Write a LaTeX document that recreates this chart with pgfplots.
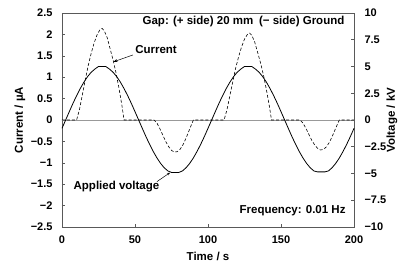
\documentclass[border=0pt]{standalone}
\usepackage{fontspec}
\setmainfont{Liberation Sans}
\usepackage{pgfplots}
\pgfplotsset{compat=1.18}
\usetikzlibrary{arrows.meta}
\newcommand\txt{\bfseries\fontsize{11.5bp}{13bp}\selectfont}
\newcommand\tck{\bfseries\fontsize{11bp}{13bp}\selectfont}
\begin{document}
\begin{tikzpicture}[font=\txt]
\pgfplotsset{every axis/.append style={scale only axis, width=292bp, height=214bp,
  xmin=0, xmax=200, at={(0,0)}, anchor=south west, clip=false,
  tick align=inside, major tick length=3bp,
  /pgf/number format/assume math mode=true,
  axis line style={black!65, line width=0.9pt},
  tick style={black!65, line width=0.6pt},
  tick label style={font=\tck},
  label style={font=\txt}}}
\begin{axis}[ymin=-2.5, ymax=2.5,
  xtick={0,50,100,150,200}, xtick pos=bottom, ytick pos=left,
  ytick={-2.5,-2,-1.5,-1,-0.5,0,0.5,1,1.5,2,2.5},
  yticklabels={−2.5,−2,−1.5,−1,−0.5,0,0.5,1,1.5,2,2.5},
  yticklabel style={xshift=-6bp},
  xticklabel style={yshift=-5bp},
  xlabel={Time / s}, ylabel={Current / µA},
  x label style={at={([yshift=-29bp]axis description cs:0.5,0)}, anchor=center},
  y label style={at={([xshift=-42bp]axis description cs:0,0.5)}, anchor=center}]
\addplot[black!40, line width=0.8pt] coordinates {(0,0) (200,0)};
\addplot[black, line width=0.6pt, dash pattern=on 3bp off 2bp] coordinates {
(0,0) (10,0) (12,0.25) (14,0.6) (16,0.95) (18,1.28) (20,1.56) (22,1.8) (24,1.99) (26,2.11) (27.5,2.14) (29,2.08) (31,1.92) (33,1.66) (35,1.4) (37,1.1) (39,0.75) (41,0.35) (42.5,0)
(63,0) (65,-0.07) (67,-0.2) (69,-0.35) (71,-0.5) (73,-0.62) (75,-0.71) (77,-0.75) (79,-0.74) (81,-0.68) (83,-0.57) (85,-0.42) (87,-0.25) (89,-0.08) (90,0)
(111,0) (113,0.24) (115,0.57) (117,0.9) (119,1.22) (121,1.48) (123,1.71) (125,1.89) (127,2.0) (128.5,2.03) (130,1.98) (132,1.82) (134,1.58) (136,1.33) (138,1.05) (140,0.71) (142,0.33) (143.5,0)
(163,0) (165,-0.07) (167,-0.19) (169,-0.33) (171,-0.47) (173,-0.58) (175,-0.66) (177,-0.70) (179,-0.69) (181,-0.63) (183,-0.53) (185,-0.39) (187,-0.23) (189,-0.07) (190,0) (200,0)};
\node at (axis cs:64.4,1.64) {Current};
\draw[-{Stealth[length=4bp,width=3bp]}, line width=0.5pt] (axis cs:48.6,1.52) -- (axis cs:35.3,1.36);
\node at (axis cs:37.3,-1.56) {Applied voltage};
\draw[-{Stealth[length=3bp,width=2.5bp]}, line width=0.5pt] (axis cs:65,-1.44) -- (axis cs:74,-1.23);
\node[anchor=east] at (rel axis cs:0.979,0.958) {Gap: (+ side) 20 mm\enspace(− side) Ground};
\node[anchor=east] at (rel axis cs:0.983,0.075) {Frequency: 0.01 Hz};
\node[rotate=90] at ([xshift=38bp]rel axis cs:1,0.5) {Voltage / kV};
\end{axis}
\begin{axis}[ymin=-10, ymax=10, axis x line=none, axis y line*=right, ytick pos=right,
  ytick={-10,-7.5,-5,-2.5,0,2.5,5,7.5,10},
  yticklabels={−10,−7.5,−5,−2.5,0,2.5,5,7.5,10},
  yticklabel style={xshift=7bp}]
\addplot[black, line width=0.8pt] coordinates {
(0,-0.78) (2.5,0) (5,0.78) (7.5,1.55) (10,2.27) (12.5,2.94) (15,3.54) (17.5,4.05) (20,4.46) (22.5,4.76) (25,5.0) (27.5,5.0) (30,5.0) (32.5,4.76) (35,4.46) (37.5,4.05) (40,3.54) (42.5,2.94) (45,2.27) (47.5,1.55) (50,0.78)
(52.5,0) (55,-0.78) (57.5,-1.55) (60,-2.27) (62.5,-2.94) (65,-3.54) (67.5,-4.05) (70,-4.46) (72.5,-4.76) (75,-4.9) (77.5,-4.9) (80,-4.9) (82.5,-4.76) (85,-4.46) (87.5,-4.05) (90,-3.54) (92.5,-2.94) (95,-2.27) (97.5,-1.55) (100,-0.78)
(102.5,0) (105,0.78) (107.5,1.55) (110,2.27) (112.5,2.94) (115,3.54) (117.5,4.05) (120,4.46) (122.5,4.76) (125,5.0) (127.5,5.0) (130,5.0) (132.5,4.76) (135,4.46) (137.5,4.05) (140,3.54) (142.5,2.94) (145,2.27) (147.5,1.55) (150,0.78)
(152.5,0) (155,-0.78) (157.5,-1.55) (160,-2.27) (162.5,-2.94) (165,-3.54) (167.5,-4.05) (170,-4.46) (172.5,-4.76) (175,-4.85) (177.5,-4.85) (180,-4.85) (182.5,-4.76) (185,-4.46) (187.5,-4.05) (190,-3.54) (192.5,-2.94) (195,-2.27) (197.5,-1.55) (200,-0.78)};
\end{axis}
\pgfresetboundingbox
\path (-62bp,-34bp) rectangle (337bp,227bp);
\end{tikzpicture}
\end{document}
